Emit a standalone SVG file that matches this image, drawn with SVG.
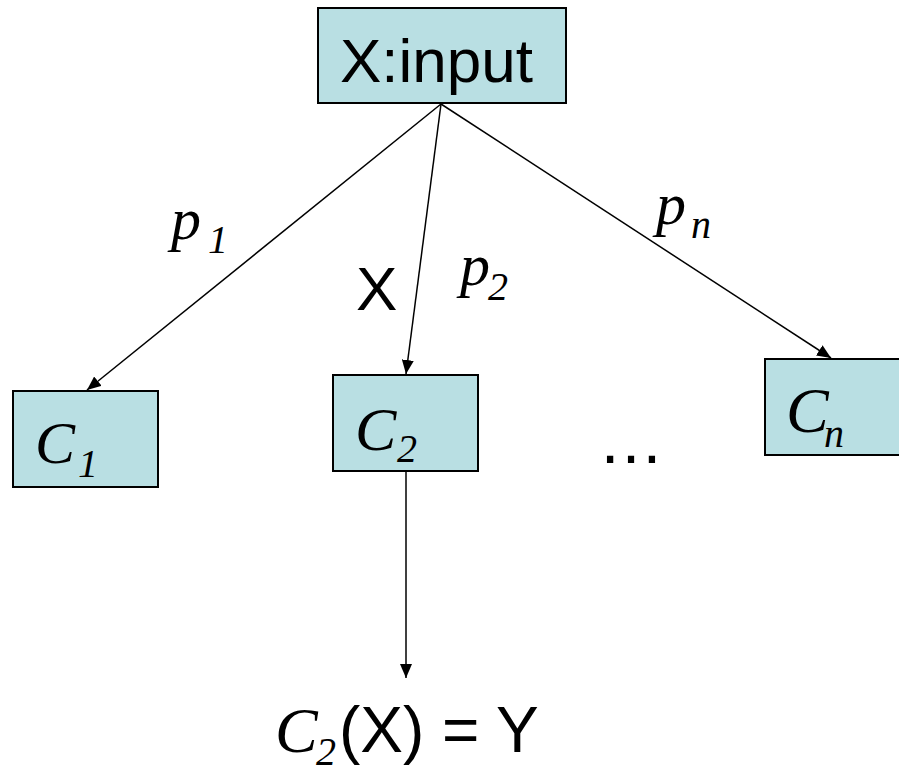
<svg xmlns="http://www.w3.org/2000/svg" width="899" height="768" viewBox="0 0 899 768">
<style>
.box{fill:#B9DFE3;stroke:#000;stroke-width:2}
.ln{stroke:#000;stroke-width:1.5;fill:none;marker-end:url(#ah)}
.sans{font-family:"Liberation Sans",Arial,sans-serif;fill:#000}
.it{font-family:"Liberation Serif","Times New Roman",serif;font-style:italic;fill:#000}
.sub{font-family:"Liberation Serif","Times New Roman",serif;font-style:italic;font-size:40px;fill:#000}
</style>
<defs>
<marker id="ah" markerUnits="userSpaceOnUse" markerWidth="16" markerHeight="12" refX="14" refY="6" orient="auto">
<path d="M0,0 L14,6 L0,12 Z" fill="#000"/>
</marker>
</defs>
<rect width="899" height="768" fill="#fff"/>
<g id="connectors">
<line class="ln" x1="441" y1="104" x2="87" y2="390"/>
<line class="ln" x1="441" y1="104" x2="406" y2="374"/>
<line class="ln" x1="441" y1="104" x2="831" y2="358"/>
<line class="ln" x1="406" y1="471" x2="406" y2="678"/>
</g>
<g id="input">
<rect class="box" x="318" y="8" width="248" height="95"/>
<text class="sans" x="340" y="82" font-size="62">X:input</text>
</g>
<g id="c1">
<rect class="box" x="13" y="391" width="145" height="96"/>
<text class="it" x="35" y="463" font-size="60">C</text>
<text class="sub" x="78" y="477">1</text>
</g>
<g id="c2">
<rect class="box" x="333" y="375" width="145" height="96"/>
<text class="it" x="355" y="450" font-size="62">C</text>
<text class="sub" x="397" y="462">2</text>
</g>
<g id="cn">
<rect class="box" x="765" y="359" width="145" height="96"/>
<text class="it" x="786" y="432" font-size="64">C</text>
<text class="sub" x="824" y="447">n</text>
</g>
<g id="labels">
<text class="it" x="171" y="239" font-size="60">p</text>
<text class="sub" x="208" y="253">1</text>
<text class="sans" x="356" y="310" font-size="62">X</text>
<text class="it" x="460" y="285" font-size="60">p</text>
<text class="sub" x="488" y="300">2</text>
<text class="it" x="656" y="224" font-size="60">p</text>
<text class="sub" x="691" y="238">n</text>
<text class="sans" x="598" y="463" font-size="66">…</text>
</g>
<g id="result">
<text class="it" x="275" y="752" font-size="64">C</text>
<text class="sub" x="316" y="765">2</text>
<text class="sans" x="339" y="752" font-size="64">(X) = Y</text>
</g>
</svg>
